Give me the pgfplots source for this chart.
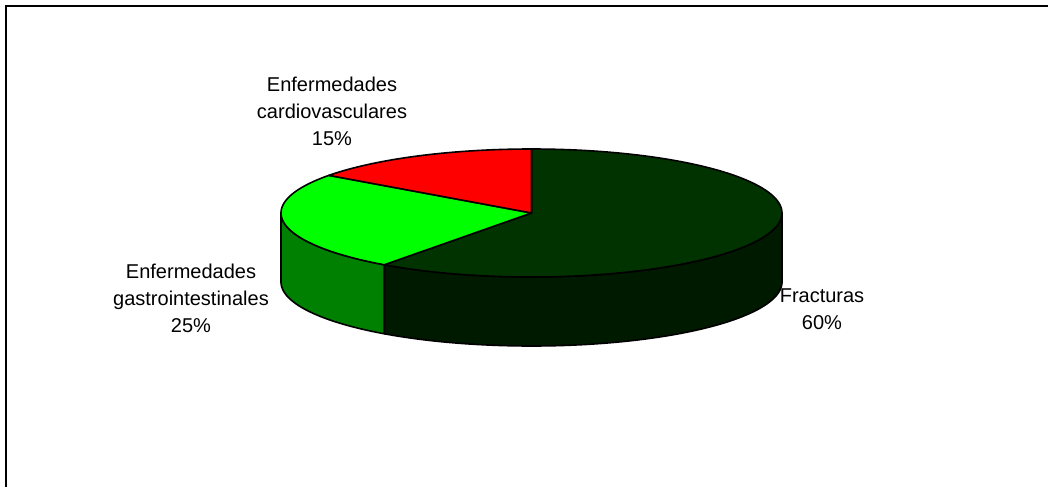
\documentclass[border=0pt]{standalone}
\usepackage{pgfplots}
\pgfplotsset{compat=1.18}
\usepackage{fontspec}
\setmainfont{Liberation Sans}

\definecolor{fracTop}{RGB}{0,51,0}
\definecolor{fracSide}{RGB}{0,26,0}
\definecolor{gastTop}{RGB}{0,255,0}
\definecolor{gastSide}{RGB}{0,128,0}
\definecolor{cardTop}{RGB}{255,0,0}

% shares in percent
\def\vFrac{60}
\def\vGast{25}
\def\vCard{15}

% pie geometry (axis units = pt)
\def\cx{531.5}
\def\cy{213}
\def\rx{250.5}
\def\ry{64}
\def\dep{69}

% slice boundaries, clockwise from twelve o'clock
\pgfmathsetmacro\aA{90}
\pgfmathsetmacro\aB{\aA-3.6*\vFrac}
\pgfmathsetmacro\aC{\aB-3.6*\vGast}
\pgfmathsetmacro\aD{\aC-3.6*\vCard}
% visible front rim of each slice
\pgfmathsetmacro\fFracA{max(\aB,-180)}
\pgfmathsetmacro\fFracB{min(\aA,0)}
\pgfmathsetmacro\fGastA{max(\aC,-180)}
\pgfmathsetmacro\fGastB{min(\aB,0)}

\begin{document}
\begin{tikzpicture}[
  declare function={
    % top face: centre -> rim at a, arc a -> b, rim at b -> centre
    tang(\s,\a,\b)=(\s<1)*\a+(\s>=1)*(\s<=2)*(\a+(\b-\a)*(\s-1))+(\s>2)*\b;
    trad(\s)=(\s<1)*\s+(\s>=1)*(\s<=2)+(\s>2)*(3-\s);
    % side face: top arc a -> b, down, bottom arc b -> a
    sang(\s,\a,\b)=(\s<=1)*(\a+(\b-\a)*\s)+(\s>1)*(\s<=2)*\b+(\s>2)*(\b-(\b-\a)*(\s-2));
    sdep(\s)=(\s>1)*(\s<=2)*(\s-1)+(\s>2);
  }]
\begin{axis}[
  width=1048pt, height=487pt, scale only axis,
  xmin=0, xmax=1048, ymin=0, ymax=487, y dir=reverse,
  hide axis, clip=false,
  every axis plot/.append style={line width=1.6pt, draw=black, line join=round},
]
% side walls
\addplot[fill=fracSide, domain=0:3, samples=301]
  ({\cx+\rx*cos(sang(x,\fFracA,\fFracB))},
   {\cy-\ry*sin(sang(x,\fFracA,\fFracB))+\dep*sdep(x)}) -- cycle;
\addplot[fill=gastSide, domain=0:3, samples=301]
  ({\cx+\rx*cos(sang(x,\fGastA,\fGastB))},
   {\cy-\ry*sin(sang(x,\fGastA,\fGastB))+\dep*sdep(x)}) -- cycle;
% top faces
\addplot[fill=fracTop, domain=0:3, samples=361]
  ({\cx+\rx*trad(x)*cos(tang(x,\aA,\aB))},
   {\cy-\ry*trad(x)*sin(tang(x,\aA,\aB))}) -- cycle;
\addplot[fill=gastTop, domain=0:3, samples=301]
  ({\cx+\rx*trad(x)*cos(tang(x,\aB,\aC))},
   {\cy-\ry*trad(x)*sin(tang(x,\aB,\aC))}) -- cycle;
\addplot[fill=cardTop, domain=0:3, samples=301]
  ({\cx+\rx*trad(x)*cos(tang(x,\aC,\aD))},
   {\cy-\ry*trad(x)*sin(tang(x,\aC,\aD))}) -- cycle;

% labels
\begin{scope}[every node/.style={align=center, font=\fontsize{20}{27}\selectfont}]
\node at (axis cs:332,111) {Enfermedades\\cardiovasculares\\\vCard\%};
\node at (axis cs:191,298) {Enfermedades\\gastrointestinales\\\vGast\%};
\node at (axis cs:822,309.5) {Fracturas\\\vFrac\%};
\end{scope}

% chart area border
\draw[line width=2pt] (axis cs:6,487) -- (axis cs:6,6) -- (axis cs:1048,6);
\end{axis}
\pgfresetboundingbox
\useasboundingbox (current axis.south west) rectangle (current axis.north east);
\end{tikzpicture}
\end{document}
